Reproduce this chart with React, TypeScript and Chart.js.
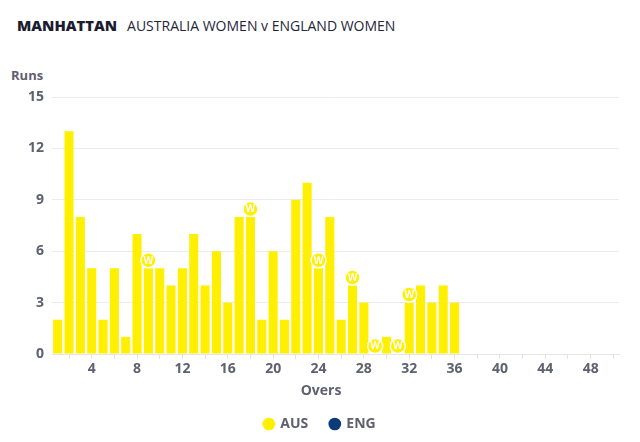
import React, { useEffect, useRef } from 'react';
import { Chart, registerables } from 'chart.js';

Chart.register(...registerables);

// ---- data ----
const overLabels: string[] = [
  '1','2','3','4','5','6','7','8','9','10','11','12','13','14','15','16','17','18','19','20',
  '21','22','23','24','25','26','27','28','29','30','31','32','33','34','35','36','37','38','39','40',
  '41','42','43','44','45','46','47','48','49','50',
];
const ausRuns: number[] = [2,13,8,5,2,5,1,7,5,5,4,5,7,4,6,3,8,8,2,6,2,9,10,5,8,2,4,3,0,1,0,3,4,3,4,3];
const engRuns: number[] = [];
const ausWicketOvers: number[] = [9,18,24,27,29,31,32];
const shownOverTicks: string[] = ['4','8','12','16','20','24','28','32','36','40','44','48'];
const yMin = 0;
const yMax = 15;
const yStep = 3;

const AUS_COLOR = '#FFEF00';
const ENG_COLOR = '#0B3B78';
const TICK_COLOR = '#5f6070';
const FONT = '"Open Sans", "DejaVu Sans", sans-serif';

const wicketPlugin = {
  id: 'wicketMarkers',
  afterDatasetsDraw(chart: any) {
    const { ctx, scales } = chart;
    const x = scales.x;
    const y = scales.y;
    ctx.save();
    ausWicketOvers.forEach((over) => {
      const idx = over - 1;
      const px = x.getPixelForValue(idx);
      const py = y.getPixelForValue(ausRuns[idx] ?? 0) - 8;
      ctx.beginPath();
      ctx.arc(px, py, 7.5, 0, Math.PI * 2);
      ctx.fillStyle = AUS_COLOR;
      ctx.fill();
      ctx.lineWidth = 1.5;
      ctx.strokeStyle = '#ffffff';
      ctx.stroke();
      ctx.fillStyle = '#ffffff';
      ctx.font = `bold 10px ${FONT}`;
      ctx.textAlign = 'center';
      ctx.textBaseline = 'middle';
      ctx.fillText('W', px, py + 0.5);
    });
    ctx.restore();
  },
};

export default function App() {
  const canvasRef = useRef<HTMLCanvasElement | null>(null);

  useEffect(() => {
    if (!canvasRef.current) return;
    const chart = new Chart(canvasRef.current, {
      type: 'bar',
      data: {
        labels: overLabels,
        datasets: [
          {
            label: 'AUS',
            data: ausRuns,
            backgroundColor: AUS_COLOR,
            borderWidth: 0,
            barPercentage: 0.8,
            categoryPercentage: 1,
            grouped: false,
            yAxisID: 'y',
          } as any,
          {
            label: 'ENG',
            data: engRuns,
            backgroundColor: ENG_COLOR,
            borderWidth: 0,
            barPercentage: 0.8,
            categoryPercentage: 1,
            grouped: false,
            yAxisID: 'y',
          } as any,
        ],
      },
      options: {
        animation: false,
        responsive: false,
        maintainAspectRatio: false,
        layout: { padding: { top: 97, left: 0, right: 0, bottom: 1 } },
        plugins: {
          legend: {
            position: 'bottom',
            labels: {
              usePointStyle: true,
              pointStyle: 'circle',
              boxWidth: 9,
              boxHeight: 9,
              padding: 22,
              color: TICK_COLOR,
              font: { family: FONT, size: 14, weight: 'bold' },
            },
          },
          tooltip: { enabled: false },
        },
        scales: {
          x: {
            afterFit: (s: any) => { s.height = 41; },
            grid: {
              display: true,
              drawOnChartArea: false,
              drawTicks: true,
              tickLength: 5,
              offset: false,
              color: (c: any) => ((c.index + 1) % 2 === 0 ? '#e2e2e6' : 'rgba(0,0,0,0)'),
            },
            border: { display: true, color: '#e6e6ea' },
            ticks: {
              autoSkip: false,
              maxRotation: 0,
              padding: 2,
              color: TICK_COLOR,
              font: { family: FONT, size: 14, weight: 'bold' },
              callback: (_v: any, i: number) => (shownOverTicks.includes(overLabels[i]) ? overLabels[i] : ''),
            },
            title: { display: false },
          },
          y: {
            min: yMin,
            max: yMax,
            afterFit: (s: any) => { s.width = 52; },
            ticks: {
              stepSize: yStep,
              padding: 8,
              color: TICK_COLOR,
              font: { family: FONT, size: 14, weight: 'bold' },
            },
            grid: { color: '#ececf0', drawTicks: false },
            border: { display: false },
          },
          yRight: {
            position: 'right',
            display: true,
            afterFit: (s: any) => { s.width = 21; },
            ticks: { display: false },
            grid: { display: false, drawTicks: false },
            border: { display: false },
          },
        },
      } as any,
      plugins: [wicketPlugin],
    });
    return () => chart.destroy();
  }, []);

  return (
    <div style={{ position: 'fixed', left: 0, top: 0, width: 640, height: 442, background: '#fff', fontFamily: FONT }}>
      <div style={{ position: 'absolute', left: 17, top: 14, height: 22, display: 'flex', alignItems: 'center', whiteSpace: 'nowrap' }}>
        <span style={{ fontWeight: 800, fontSize: 14.8, color: '#1b1c30' }}>MANHATTAN</span>
        <span style={{ fontWeight: 400, fontSize: 14, color: '#25263a', marginLeft: 10 }}>AUSTRALIA WOMEN v ENGLAND WOMEN</span>
      </div>
      <div style={{ position: 'absolute', left: 11, top: 66, fontWeight: 700, fontSize: 13, color: TICK_COLOR }}>Runs</div>
      <canvas ref={canvasRef} width={640} height={442} style={{ position: 'absolute', left: 0, top: 0, width: 640, height: 442 }} />
      <div style={{ position: 'absolute', left: 0, width: 642, top: 382, lineHeight: '16px', textAlign: 'center', fontWeight: 700, fontSize: 14, color: TICK_COLOR, pointerEvents: 'none' }}>Overs</div>
    </div>
  );
}
